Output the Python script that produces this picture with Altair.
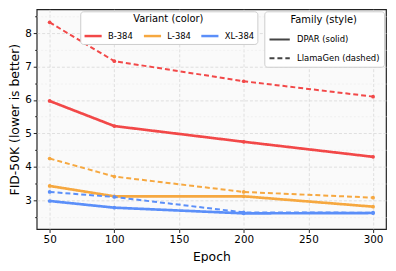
import altair as alt
import pandas as pd

epochs = [50, 100, 200, 300]
variants = ["B-384", "L-384", "XL-384"]
families = ["DPAR (solid)", "LlamaGen (dashed)"]
dpar = {
    "B-384": [5.97, 5.22, 4.75, 4.30],
    "L-384": [3.43, 3.12, 3.12, 2.81],
    "XL-384": [2.98, 2.78, 2.61, 2.62],
}
llamagen = {
    "B-384": [8.32, 7.16, 6.56, 6.10],
    "L-384": [4.25, 3.71, 3.25, 3.08],
    "XL-384": [3.25, 3.10, 2.64, 2.63],
}
colors = ["#f24848", "#f6a840", "#5b8ff9"]

rows = []
for fam, src in zip(families, [dpar, llamagen]):
    for v in variants:
        for e, val in zip(epochs, src[v]):
            rows.append({"Epoch": e, "FID": val, "Variant": v, "Family": fam})
df = pd.DataFrame(rows)

font = "DejaVu Sans"

x_enc = alt.X(
    "Epoch:Q",
    scale=alt.Scale(domain=[40, 310], nice=False, zero=False),
    axis=alt.Axis(values=[50, 100, 150, 200, 250, 300], title="Epoch", grid=True),
)
y_enc = alt.Y(
    "FID:Q",
    scale=alt.Scale(domain=[2.142, 8.71], nice=False, zero=False),
    axis=alt.Axis(
        values=[2.5, 3, 3.5, 4, 4.5, 5, 5.5, 6, 6.5, 7, 7.5, 8, 8.5],
        format="~g",
        labelExpr="datum.value % 1 === 0 ? datum.label : ''",
        title="FID-50K (lower is better)",
        tickSize={"condition": {"test": "datum.value % 1 !== 0", "value": 2}, "value": 3.5},
        gridColor={"condition": {"test": "datum.value % 1 !== 0", "value": "#eeeeee"}, "value": "#d8d8d8"},
        gridDash={"condition": {"test": "datum.value % 1 !== 0", "value": [2, 2]}, "value": [3, 2]},
    ),
)
color_enc = alt.Color(
    "Variant:N",
    scale=alt.Scale(domain=variants, range=colors),
    legend=alt.Legend(
        title="Variant (color)",
        orient="none",
        legendX=44,
        legendY=2,
        direction="horizontal",
        columns=3,
        symbolType="stroke",
        symbolStrokeWidth=2.5,
        symbolSize=300,
        columnPadding=5,
        labelOffset=5,
        titleAnchor="middle",
        titleFontWeight="normal",
        titlePadding=2,
        fillColor="white",
        strokeColor="#cccccc",
        cornerRadius=3,
        padding=3,
    ),
)
dash_enc = alt.StrokeDash(
    "Family:N",
    scale=alt.Scale(domain=families, range=[[1, 0], [5, 3]]),
    legend=alt.Legend(
        title="Family (style)",
        orient="none",
        legendX=230,
        legendY=2,
        symbolType="stroke",
        symbolStrokeColor="#444444",
        symbolStrokeWidth=2,
        symbolSize=420,
        labelOffset=6,
        titleAnchor="middle",
        titleFontWeight="normal",
        titlePadding=3,
        fillColor="white",
        strokeColor="#cccccc",
        cornerRadius=3,
        padding=4,
        rowPadding=3,
    ),
)

base = alt.Chart(df)

solid = (
    base.transform_filter(alt.datum.Family == families[0])
    .mark_line(strokeWidth=2.7)
    .encode(x=x_enc, y=y_enc, color=color_enc, strokeDash=dash_enc, order="Epoch:Q")
)
dashed = (
    base.transform_filter(alt.datum.Family == families[1])
    .mark_line(strokeWidth=2.0)
    .encode(x=x_enc, y=y_enc, color=color_enc, strokeDash=dash_enc, order="Epoch:Q")
)
points = base.mark_circle(size=14, opacity=1).encode(x=x_enc, y=y_enc, color=color_enc)

chart = (
    alt.layer(solid, dashed, points)
    .properties(
        width=353,
        height=222,
        autosize=alt.AutoSizeParams(type="none"),
        padding={"left": 29, "top": 0, "right": 2, "bottom": 33},
    )
    .configure_view(fill="#fafafa", stroke="#222222", strokeWidth=1.2)
    .configure_axis(
        labelFont=font,
        titleFont=font,
        labelFontSize=10.5,
        titleFontSize=12.5,
        labelColor="black",
        titleColor="black",
        titleFontWeight="normal",
        tickColor="#222222",
        domain=False,
        gridColor="#d8d8d8",
        gridDash=[3, 2],
        gridWidth=0.8,
        labelPadding=2,
    )
    .configure_axisX(titlePadding=6, tickSize=3.5)
    .configure_axisY(titlePadding=3)
    .configure_legend(
        labelFont=font,
        titleFont=font,
        labelFontSize=8.5,
        titleFontSize=10,
        titleFontWeight="normal",
        labelColor="black",
        titleColor="black",
    )
)

chart.save("out.html", embed_options={"renderer": "svg", "actions": False})
